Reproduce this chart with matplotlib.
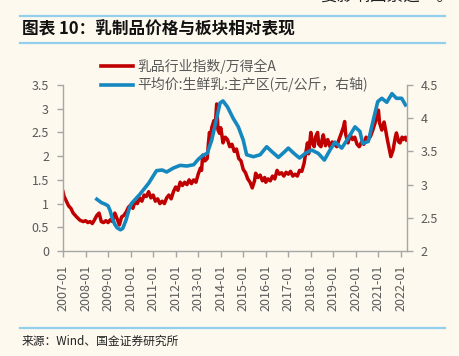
import matplotlib
matplotlib.use("Agg")
import matplotlib.pyplot as plt
from matplotlib.lines import Line2D

plt.rcParams['font.family'] = ['Noto Sans CJK SC', 'DejaVu Sans']

# 乳品行业指数/万得全A (left axis), decimal years
red_years = [2007.00, 2007.05, 2007.15, 2007.25, 2007.35, 2007.45, 2007.6, 2007.75, 2007.9,
             2008.0, 2008.1, 2008.2, 2008.3, 2008.4, 2008.5, 2008.6, 2008.7, 2008.8, 2008.9,
             2009.0, 2009.1, 2009.2, 2009.3, 2009.4, 2009.5, 2009.6, 2009.7, 2009.8, 2009.9,
             2010.0, 2010.1, 2010.2, 2010.3, 2010.4, 2010.5, 2010.6, 2010.7, 2010.8, 2010.9,
             2011.0, 2011.1, 2011.2, 2011.3, 2011.4, 2011.5, 2011.6, 2011.7, 2011.8, 2011.9,
             2012.0, 2012.1, 2012.2, 2012.3, 2012.4, 2012.5, 2012.6, 2012.7, 2012.8, 2012.9,
             2013.0, 2013.1, 2013.15, 2013.2, 2013.3, 2013.4, 2013.45, 2013.5, 2013.55, 2013.6,
             2013.7, 2013.75, 2013.82, 2013.88, 2013.95, 2014.0, 2014.05, 2014.1, 2014.2, 2014.3,
             2014.4, 2014.5, 2014.6, 2014.7, 2014.8, 2014.9, 2015.0, 2015.1, 2015.2, 2015.3,
             2015.4, 2015.5, 2015.55, 2015.65, 2015.75, 2015.85, 2015.95, 2016.0, 2016.1, 2016.2,
             2016.3, 2016.4, 2016.5, 2016.6, 2016.7, 2016.8, 2016.9, 2017.0, 2017.1, 2017.2,
             2017.3, 2017.4, 2017.5, 2017.6, 2017.7, 2017.75, 2017.85, 2017.9, 2018.0, 2018.05,
             2018.15, 2018.2, 2018.3, 2018.35, 2018.45, 2018.5, 2018.55, 2018.65, 2018.75, 2018.85,
             2018.95, 2019.05, 2019.15, 2019.25, 2019.35, 2019.45, 2019.5, 2019.55, 2019.65, 2019.75,
             2019.85, 2019.95, 2020.05, 2020.15, 2020.25, 2020.35, 2020.45, 2020.55, 2020.65, 2020.75,
             2020.85, 2020.95, 2021.0, 2021.05, 2021.15, 2021.25, 2021.3, 2021.4, 2021.5, 2021.55,
             2021.65, 2021.75, 2021.8, 2021.9, 2021.96, 2022.05, 2022.1, 2022.2, 2022.25]
red_vals = [1.25, 1.15, 1.05, 0.95, 0.90, 0.80, 0.72, 0.65, 0.62,
            0.64, 0.60, 0.62, 0.58, 0.66, 0.75, 0.80, 0.62, 0.60, 0.64,
            0.60, 0.66, 0.62, 0.80, 0.68, 0.55, 0.72, 0.75, 0.82, 0.92,
            0.97, 0.90, 1.05, 1.00, 1.12, 1.05, 1.18, 1.15, 1.25, 1.12,
            1.18, 1.05, 1.10, 1.00, 1.05, 1.00, 1.12, 1.18, 1.10, 1.25,
            1.35, 1.28, 1.45, 1.38, 1.45, 1.40, 1.50, 1.42, 1.50, 1.45,
            1.62, 1.75, 1.70, 2.02, 1.90, 1.95, 2.25, 2.50, 2.35, 2.60,
            2.75, 2.60, 3.10, 2.55, 2.48, 2.60, 2.45, 2.28, 2.40, 2.35,
            2.20, 2.25, 2.10, 2.15, 1.95, 1.90, 1.72, 1.65, 1.52, 1.45,
            1.33, 1.48, 1.64, 1.55, 1.60, 1.48, 1.55, 1.45, 1.52, 1.48,
            1.58, 1.52, 1.70, 1.62, 1.65, 1.58, 1.66, 1.62, 1.68, 1.58,
            1.62, 1.58, 1.70, 1.68, 1.85, 2.00, 2.28, 2.05, 2.50, 2.30,
            2.20, 2.40, 2.50, 2.25, 2.20, 2.35, 2.45, 2.22, 2.35, 2.20,
            2.30, 2.25, 2.20, 2.35, 2.48, 2.62, 2.73, 2.45, 2.28, 2.45,
            2.35, 2.40, 2.25, 2.20, 2.30, 2.25, 2.40, 2.35, 2.42, 2.55,
            2.70, 2.85, 2.97, 2.70, 2.55, 2.72, 2.60, 2.34, 2.10, 1.99,
            2.13, 2.40, 2.49, 2.30, 2.28, 2.40, 2.35, 2.40, 2.34]

# 平均价:生鲜乳:主产区 (元/公斤, right axis)
blue_years = [2008.5, 2008.7, 2008.9, 2009.0, 2009.1, 2009.16, 2009.3, 2009.4, 2009.55, 2009.65,
              2009.8, 2009.95, 2010.05, 2010.4, 2010.8, 2011.15, 2011.4, 2011.6, 2011.9, 2012.2,
              2012.5, 2012.8, 2013.0, 2013.2, 2013.4, 2013.6, 2013.8, 2013.97, 2014.1, 2014.3,
              2014.55, 2014.78, 2015.0, 2015.15, 2015.45, 2015.75, 2016.04, 2016.26, 2016.56, 2016.85,
              2017.0, 2017.25, 2017.5, 2017.75, 2018.04, 2018.33, 2018.6, 2018.85, 2019.07, 2019.37,
              2019.66, 2019.96, 2020.18, 2020.3, 2020.55, 2020.77, 2020.97, 2021.15, 2021.37, 2021.6,
              2021.8, 2022.03, 2022.2]
blue_vals = [2.78, 2.73, 2.70, 2.68, 2.60, 2.52, 2.40, 2.35, 2.32, 2.34,
             2.47, 2.65, 2.72, 2.85, 3.02, 3.21, 3.22, 3.19, 3.25, 3.29,
             3.28, 3.30, 3.38, 3.44, 3.47, 3.67, 3.97, 4.23, 4.26, 4.17,
             4.00, 3.87, 3.67, 3.45, 3.42, 3.45, 3.57, 3.50, 3.41, 3.50,
             3.55, 3.47, 3.40, 3.47, 3.52, 3.47, 3.37, 3.52, 3.64, 3.55,
             3.70, 3.87, 3.80, 3.62, 3.65, 3.97, 4.25, 4.30, 4.24, 4.37,
             4.30, 4.30, 4.20]

year_ticks = list(range(2007, 2023))
tick_labels = [f"{y}-01" for y in year_ticks]

red = '#C00000'
blue = '#1589BF'
grey = '#595959'
spine_c = '#A6A6A6'
bg = '#FDF9EF'
rule_c = '#92CFEA'

fig = plt.figure(figsize=(4.59, 3.56), dpi=100, facecolor=bg)
ax = fig.add_axes([0.1373, 0.2949, 0.7495, 0.4663], facecolor=bg)
ax2 = ax.twinx()

ax.plot(red_years, red_vals, color=red, lw=2.5)
ax2.plot(blue_years, blue_vals, color=blue, lw=2.6)

ax.set_xlim(2007, 2022.27)
ax.set_ylim(0, 3.5)
ax2.set_ylim(2, 4.5)
ax.set_yticks([0, 0.5, 1, 1.5, 2, 2.5, 3, 3.5])
ax.set_yticklabels(['0', '0.5', '1', '1.5', '2', '2.5', '3', '3.5'])
ax2.set_yticks([2, 2.5, 3, 3.5, 4, 4.5])
ax2.set_yticklabels(['2', '2.5', '3', '3.5', '4', '4.5'])
ax.set_xticks(year_ticks)
ax.set_xticklabels(tick_labels, rotation=90)

for a in (ax, ax2):
    a.spines['top'].set_visible(False)
    for s in ('left', 'right', 'bottom'):
        a.spines[s].set_color(spine_c)
        a.spines[s].set_linewidth(1.0)
    a.tick_params(colors=spine_c, labelcolor=grey, labelsize=9, length=4, width=1.0, pad=6)
ax.spines['right'].set_visible(False)
ax2.spines['left'].set_visible(False)
ax2.spines['bottom'].set_visible(False)

handles = [Line2D([], [], color=red, lw=2.6), Line2D([], [], color=blue, lw=2.6)]
fig.legend(handles, ['乳品行业指数/万得全A', '平均价:生鲜乳:主产区(元/公斤，右轴)'],
           loc='upper left', bbox_to_anchor=(0.205, 0.855), frameon=False,
           fontsize=10, labelcolor=grey, handlelength=2.3, handletextpad=0.3,
           labelspacing=0.25, borderpad=0)

# header / footer
fig.text(0.987, 1.012, '要影响因素之一。', ha='right', va='center', fontsize=12, color='#222222')
fig.add_artist(Line2D([20 / 459, 445 / 459], [1 - 16 / 356] * 2, color=rule_c, lw=1.6))
fig.add_artist(Line2D([20 / 459, 445 / 459], [1 - 43 / 356] * 2, color=rule_c, lw=1.6))
fig.add_artist(Line2D([20 / 459, 445 / 459], [1 - 328 / 356] * 2, color=rule_c, lw=1.6))
fig.text(22 / 459, 1 - 30 / 356, '图表 10：乳制品价格与板块相对表现', ha='left', va='center',
         fontsize=12, fontweight='bold', color='#111111')
fig.text(22 / 459, 1 - 341 / 356, '来源：Wind、国金证券研究所', ha='left', va='center',
         fontsize=8.5, color='#222222')

fig.savefig('out.png', dpi=100, facecolor=bg)
